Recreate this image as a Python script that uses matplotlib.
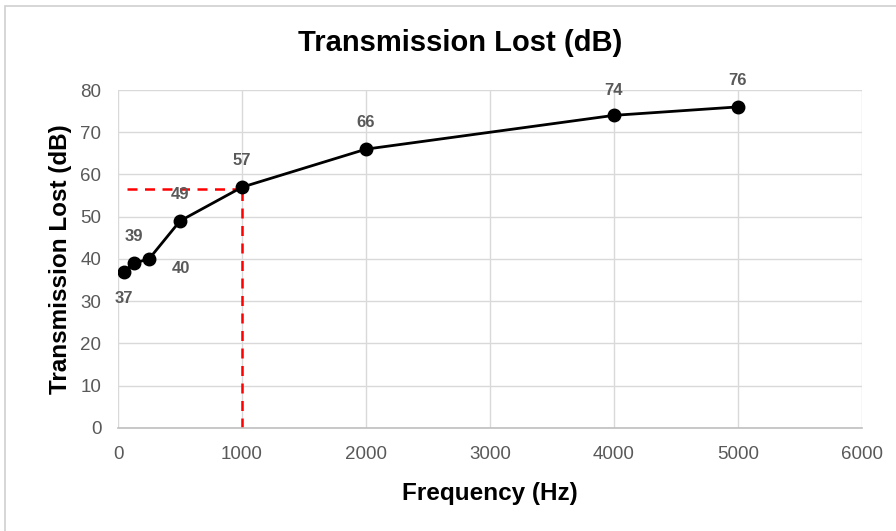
import matplotlib.pyplot as plt
from matplotlib.patches import Rectangle

plt.rcParams['font.family'] = ['Liberation Sans', 'DejaVu Sans']

# data
freq = [50, 125, 250, 500, 1000, 2000, 4000, 5000]
tl = [37, 39, 40, 49, 57, 66, 74, 76]
label_offsets = [(0, -19), (0, 19), (23, -7), (0, 19), (0, 19), (0, 19), (0, 18), (0, 19)]
ref_freq = 1000
ref_tl = 56.5
ref_x_start = 70

xticks = [0, 1000, 2000, 3000, 4000, 5000, 6000]
yticks = [0, 10, 20, 30, 40, 50, 60, 70, 80]

fig = plt.figure(figsize=(8.96, 5.31), dpi=100)
ax = fig.add_axes([0.1317, 0.194, 0.8303, 0.6365])

# outer chart border
fig.patches.append(Rectangle((0.006, -0.01), 1.1, 0.999, transform=fig.transFigure,
                             fill=False, edgecolor='#d0d0d0', lw=1.2))

ax.grid(True, color='#d9d9d9', lw=1)
ax.set_axisbelow(True)
for s in ['top', 'right', 'left']:
    ax.spines[s].set_visible(False)
ax.spines['bottom'].set_color('#bfbfbf')
ax.spines['bottom'].set_linewidth(1.2)

# reference dashed lines
ax.plot([ref_x_start, ref_freq], [ref_tl, ref_tl], color='red', ls=(0, (4, 3)), lw=1.8, zorder=2)
ax.plot([ref_freq, ref_freq], [0, ref_tl], color='red', ls=(0, (4, 3)), lw=1.8, zorder=2)

ax.plot(freq, tl, color='black', lw=2, marker='o', ms=9, zorder=3)

for f, v, off in zip(freq, tl, label_offsets):
    ax.annotate(str(v), (f, v), xytext=off, textcoords='offset points',
                ha='center', va='center', fontsize=12, fontweight='bold', color='#595959')

ax.set_xlim(0, 6000)
ax.set_ylim(0, 80)
ax.set_xticks(xticks)
ax.set_yticks(yticks)
ax.tick_params(length=0, labelsize=13.5, colors='#595959')
ax.tick_params(axis='x', pad=13)
ax.tick_params(axis='y', pad=12)

fig.text(460 / 896, 1 - 43 / 531, 'Transmission Lost (dB)', ha='center', va='center',
         fontsize=21, fontweight='bold')
ax.set_xlabel('Frequency (Hz)', fontsize=17.5, fontweight='bold', labelpad=14)
ax.set_ylabel('Transmission Lost (dB)', fontsize=17.5, fontweight='bold', labelpad=6)

fig.savefig('out.png', dpi=100)
